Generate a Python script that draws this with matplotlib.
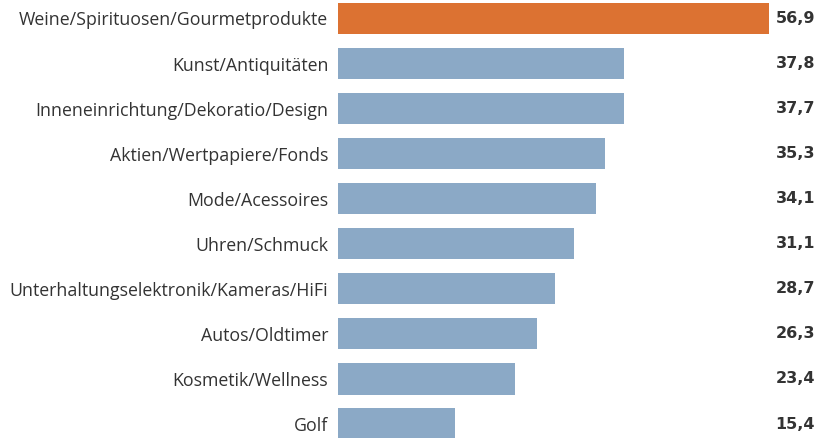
import matplotlib
matplotlib.use('Agg')
import matplotlib.pyplot as plt
from matplotlib.transforms import blended_transform_factory

# Data
categories = ['Weine/Spirituosen/Gourmetprodukte', 'Kunst/Antiquitäten',
              'Inneneinrichtung/Dekoratio/Design', 'Aktien/Wertpapiere/Fonds',
              'Mode/Acessoires', 'Uhren/Schmuck',
              'Unterhaltungselektronik/Kameras/HiFi', 'Autos/Oldtimer',
              'Kosmetik/Wellness', 'Golf']
values = [56.9, 37.8, 37.7, 35.3, 34.1, 31.1, 28.7, 26.3, 23.4, 15.4]
value_labels = ['56,9', '37,8', '37,7', '35,3', '34,1', '31,1', '28,7', '26,3', '23,4', '15,4']

ORANGE = '#DC7232'
BLUE = '#8BA9C6'
TEXT = '#333333'

plt.rcParams['font.family'] = ['Open Sans', 'DejaVu Sans']

W, H = 819, 438
fig = plt.figure(figsize=(W / 100, H / 100), dpi=100)
ax = fig.add_axes([338 / W, 0, 431 / W, 1])

colors = [ORANGE] + [BLUE] * (len(values) - 1)
ypos = list(range(len(values)))
ax.barh(ypos, values, height=0.69, color=colors)

ax.set_xlim(0, 56.9)
ax.set_ylim(9.31, -0.41)
ax.set_yticks(ypos)
ax.set_yticklabels(categories, fontsize=12.8, color=TEXT)
ax.tick_params(axis='y', length=0, pad=7)
ax.set_xticks([])
for s in ax.spines.values():
    s.set_visible(False)

# value labels, right aligned at the figure edge
trans = blended_transform_factory(fig.transFigure, ax.transData)
for y, lab in zip(ypos, value_labels):
    ax.text(815 / W, y, lab, transform=trans, ha='right', va='center',
            fontsize=11.5, fontweight='bold', family='DejaVu Sans', color=TEXT)

fig.savefig('out.png', dpi=100)
